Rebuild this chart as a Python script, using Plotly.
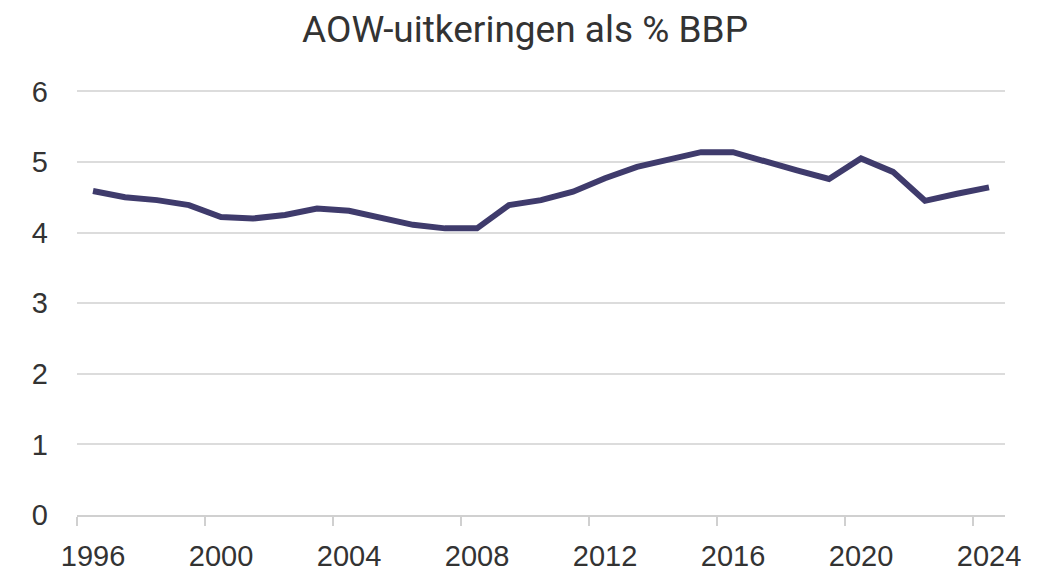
import plotly.graph_objects as go

years = list(range(1996, 2025))
aow_pct_bbp = [4.59, 4.50, 4.46, 4.39, 4.22, 4.20, 4.25, 4.34, 4.31, 4.22,
               4.11, 4.06, 4.06, 4.39, 4.46, 4.58, 4.77, 4.93, 5.03, 5.14,
               5.14, 5.00, 4.88, 4.76, 5.05, 4.86, 4.45, 4.55, 4.64]
tick_years = [1996, 2000, 2004, 2008, 2012, 2016, 2020, 2024]
y_ticks = [0, 1, 2, 3, 4, 5, 6]

fig = go.Figure()
fig.add_trace(go.Scatter(
    x=years, y=aow_pct_bbp, mode="lines",
    line=dict(color="#3f3b6c", width=6), hoverinfo="x+y", showlegend=False,
))

# page body has an 8px margin, so the figure is offset by 8px
fig.update_layout(
    width=1034, height=563,
    paper_bgcolor="white", plot_bgcolor="white",
    margin=dict(l=69, r=37, t=82, b=56),
    title=dict(text="AOW-uitkeringen als % BBP", x=0.5, xanchor="center",
               y=0.962, yanchor="middle",
               font=dict(family="Roboto, Arial", size=37, color="#333333")),
    font=dict(family="Liberation Sans, Arial", color="#333333"),
)
fig.update_xaxes(
    range=[1995.5, 2024.5], tickmode="array", tickvals=tick_years,
    ticktext=[str(t) for t in tick_years], ticks="", showgrid=False,
    showline=True, linecolor="#d0d0d0", linewidth=2, automargin=False,
    tickfont=dict(size=29, color="#333333"), ticklabelstandoff=14,
    minor=dict(ticks="outside", tick0=1995.5, dtick=4, ticklen=9,
               tickcolor="#d0d0d0", tickwidth=2, showgrid=False),
    zeroline=False,
)
fig.update_yaxes(
    range=[0, 6.02], tickmode="array", tickvals=y_ticks, automargin=False,
    showgrid=True, gridcolor="#dcdcdc", gridwidth=2, zeroline=False,
    tickfont=dict(size=29, color="#333333"), ticklabelstandoff=28,
)

fig.write_html("out.html")
